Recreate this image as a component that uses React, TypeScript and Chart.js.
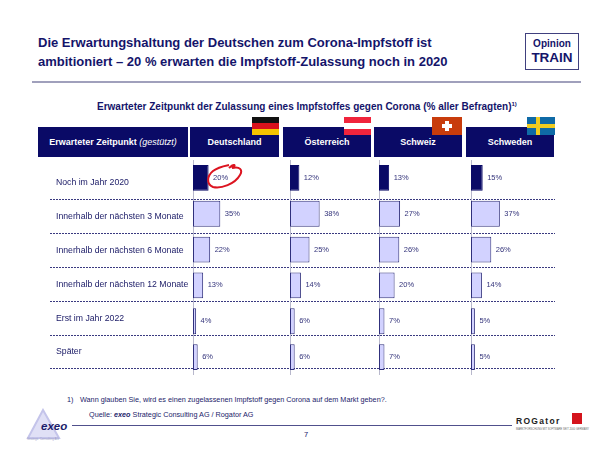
import React, { useEffect, useRef } from "react";
import { Chart, registerables } from "chart.js";

Chart.register(...registerables);

const categories = [
  "Noch im Jahr 2020",
  "Innerhalb der nächsten 3 Monate",
  "Innerhalb der nächsten 6 Monate",
  "Innerhalb der nächsten 12 Monate",
  "Erst im Jahr 2022",
  "Später",
];
const deutschland = [20, 35, 22, 13, 4, 6];
const oesterreich = [12, 38, 25, 14, 6, 6];
const schweiz = [13, 27, 26, 20, 7, 7];
const schweden = [15, 37, 26, 14, 5, 5];

const NAVY = "#0a0a66";
const TEXT = "#1c1c6a";
const FONT = "'Liberation Sans', Arial, sans-serif";

const countries = [
  { name: "Deutschland", values: deutschland, base: 193, hx: 190, hw: 89 },
  { name: "Österreich", values: oesterreich, base: 289.5, hx: 283, hw: 88 },
  { name: "Schweiz", values: schweiz, base: 379, hx: 374, hw: 88 },
  { name: "Schweden", values: schweden, base: 471, hx: 466, hw: 88 },
];

const percentLabels = {
  id: "percentLabels",
  afterDatasetsDraw(chart: any) {
    const { ctx } = chart;
    const meta = chart.getDatasetMeta(0);
    ctx.save();
    ctx.font = `7.5px ${FONT}`;
    ctx.fillStyle = "#33337a";
    ctx.textBaseline = "middle";
    meta.data.forEach((bar: any, i: number) => {
      ctx.fillText(chart.data.datasets[0].data[i] + "%", bar.x + 4.5, bar.y);
    });
    ctx.restore();
  },
};

function useChart(make: (c: HTMLCanvasElement) => Chart) {
  const ref = useRef<HTMLCanvasElement>(null);
  useEffect(() => {
    const chart = make(ref.current!);
    return () => chart.destroy();
  }, []);
  return ref;
}

function RowGrid() {
  const ref = useChart(
    (c) =>
      new Chart(c, {
        type: "bar",
        data: { labels: categories, datasets: [{ data: [], xAxisID: "x", yAxisID: "y" }] },
        options: {
          animation: false,
          responsive: false,
          indexAxis: "y",
          layout: { padding: { top: 5, bottom: 5, left: 0, right: 0 } },
          plugins: { legend: { display: false }, tooltip: { enabled: false } },
          scales: {
            x: { display: false },
            y: {
              offset: true,
              border: { display: false, dash: [2, 1] },
              grid: {
                drawTicks: false,
                color: (ctx: any) => (ctx.index === 0 ? "rgba(0,0,0,0)" : "#3a3a80"),
                lineWidth: 1,
              },
              ticks: {
                mirror: true,
                padding: 6,
                color: "#20206a",
                font: { family: FONT, size: 8.7 },
              },
            },
          },
        },
      } as any)
  );
  return (
    <canvas
      ref={ref}
      width={517}
      height={225}
      style={{ position: "absolute", left: 38, top: 155, width: 517, height: 225 }}
    />
  );
}

function CountryBars({ values, base }: { values: number[]; base: number }) {
  const ref = useChart(
    (c) =>
      new Chart(c, {
        type: "bar",
        data: {
          labels: categories,
          datasets: [
            {
              data: values,
              backgroundColor: values.map((_, i) => (i === 0 ? NAVY : "#d2d2ff")),
              borderColor: values.map((_, i) => (i === 0 ? NAVY : "#30307c")),
              borderWidth: 1,
              borderSkipped: false,
              barPercentage: 0.72,
              categoryPercentage: 1,
            },
          ],
        },
        options: {
          animation: false,
          responsive: false,
          indexAxis: "y",
          layout: { padding: 0 },
          plugins: { legend: { display: false }, tooltip: { enabled: false } },
          scales: {
            x: { display: false, min: 0, max: 109 },
            y: {
              offset: true,
              grid: { display: false, drawTicks: false },
              border: { color: "#b8b8cc", width: 1 },
              ticks: { display: false },
            },
          },
        },
        plugins: [percentLabels],
      } as any)
  );
  return (
    <canvas
      ref={ref}
      width={85}
      height={215}
      style={{ position: "absolute", left: base, top: 160, width: 85, height: 215 }}
    />
  );
}

const abs = (left: number, top: number, extra: React.CSSProperties = {}): React.CSSProperties => ({
  position: "absolute",
  left,
  top,
  whiteSpace: "nowrap",
  ...extra,
});

function Header({ x, w, children }: { x: number; w: number; children: React.ReactNode }) {
  return (
    <div
      style={abs(x, 127, {
        width: w,
        height: 30,
        background: NAVY,
        color: "#fff",
        fontSize: 9,
        fontWeight: 700,
        textAlign: "center",
        lineHeight: "30px",
      })}
    >
      {children}
    </div>
  );
}

function Flag({ x, w, children }: { x: number; w: number; children: React.ReactNode }) {
  return <div style={abs(x, 117, { width: w, height: 18, overflow: "hidden" })}>{children}</div>;
}

const band = (c: string, top: number, h: number): React.CSSProperties => ({
  position: "absolute",
  left: 0,
  right: 0,
  top,
  height: h,
  background: c,
});

export default function App() {
  return (
    <div
      style={{
        position: "absolute",
        left: 0,
        top: 0,
        width: 609,
        height: 466,
        overflow: "hidden",
        background: "#fff",
        fontFamily: FONT,
        color: TEXT,
      }}
    >
      <div style={abs(38, 34, { fontSize: 13, fontWeight: 700, lineHeight: "18.5px", color: "#14146a" })}>
        Die Erwartungshaltung der Deutschen zum Corona-Impfstoff ist
        <br />
        ambitioniert – 20 % erwarten die Impfstoff-Zulassung noch in 2020
      </div>
      <div
        style={abs(525, 33, {
          width: 52,
          height: 35,
          border: "1px solid #40407e",
          textAlign: "center",
          color: "#14146a",
          fontWeight: 700,
        })}
      >
        <div style={{ fontSize: 10, lineHeight: "12px", marginTop: 4 }}>Opinion</div>
        <div style={{ fontSize: 13.5, lineHeight: "15px" }}>TRAIN</div>
      </div>
      <div style={abs(32, 81, { width: 549, height: 2, background: "#a0a0bc" })} />
      <div style={abs(97, 101, { fontSize: 10, fontWeight: 700, lineHeight: "12px", color: "#14146a" })}>
        Erwarteter Zeitpunkt der Zulassung eines Impfstoffes gegen Corona (% aller Befragten)
        <sup style={{ fontSize: 6, lineHeight: 0 }}>1)</sup>
      </div>

      <Header x={38} w={150}>
        Erwarteter Zeitpunkt <span style={{ fontWeight: 400, fontStyle: "italic" }}>(gestützt)</span>
      </Header>
      {countries.map((c) => (
        <Header key={c.name} x={c.hx} w={c.hw}>
          {c.name}
        </Header>
      ))}

      <Flag x={252} w={27}>
        <div style={band("#111", 0, 6)} />
        <div style={band("#d8121c", 6, 6)} />
        <div style={band("#f5c400", 12, 6)} />
      </Flag>
      <Flag x={344} w={27}>
        <div style={band("#f0243c", 0, 6)} />
        <div style={band("#fff", 6, 6)} />
        <div style={band("#f0243c", 12, 6)} />
      </Flag>
      <Flag x={432} w={30}>
        <div style={band("#c83c0c", 0, 18)} />
        <div style={abs(13, 4, { width: 4, height: 10, background: "#fff" })} />
        <div style={abs(10, 7, { width: 10, height: 4, background: "#fff" })} />
      </Flag>
      <Flag x={527} w={28}>
        <div style={band("#0f6aa6", 0, 18)} />
        <div style={band("#f0cc20", 7, 4)} />
        <div style={abs(9, 0, { width: 4, height: 18, background: "#f0cc20" })} />
      </Flag>

      <RowGrid />
      {countries.map((c) => (
        <CountryBars key={c.name} values={c.values} base={c.base} />
      ))}

      <svg style={abs(204, 161)} width={42} height={30}>
        <path
          d="M25 7 C30 2 33 4 28 7 C36 5 39 9 36 14 C31 23 17 28 9 26 C2 23 3 15 9 10 C14 6 20 5 25 4"
          fill="none"
          stroke="#dc1420"
          strokeWidth={2}
        />
      </svg>

      <div style={abs(67, 394, { fontSize: 7.25, lineHeight: "12px" })}>1)</div>
      <div style={abs(80, 394, { fontSize: 7.25, lineHeight: "12px" })}>
        Wann glauben Sie, wird es einen zugelassenen Impfstoff gegen Corona auf dem Markt geben?.
      </div>
      <div style={abs(89, 409, { fontSize: 7.25, lineHeight: "12px" })}>
        Quelle: <b><i>exeo</i></b> Strategic Consulting AG / Rogator AG
      </div>
      <div style={abs(72, 425, { width: 440, height: 1, background: "#50508c" })} />
      <div style={abs(304, 430, { fontSize: 7.5, lineHeight: "10px" })}>7</div>

      <svg style={abs(26, 408)} width={36} height={32}>
        <path d="M17 2 L33 30 L2 30 Z" fill="#e0e0f6" stroke="#c4c4ea" strokeWidth={2} />
      </svg>
      <div style={abs(41, 419, { fontSize: 11.5, fontWeight: 700, fontStyle: "italic", lineHeight: "14px", color: "#1c1c6a" })}>
        exeo
      </div>
      <div style={abs(27, 437, { fontSize: 3, lineHeight: "4px", color: "#a0a0c8" })}>Strategic Consulting AG</div>

      <div style={abs(516, 416, { fontSize: 8.5, fontWeight: 700, letterSpacing: 1.3, lineHeight: "11px", color: "#222" })}>
        ROGator
      </div>
      <div style={abs(572, 413, { width: 10, height: 11, background: "#d4141c" })} />
      <div style={abs(516, 428, { fontSize: 2.6, lineHeight: "4px", color: "#666" })}>
        MARKTFORSCHUNG MIT SOFTWARE SEIT 2000 GERMANY
      </div>
    </div>
  );
}
